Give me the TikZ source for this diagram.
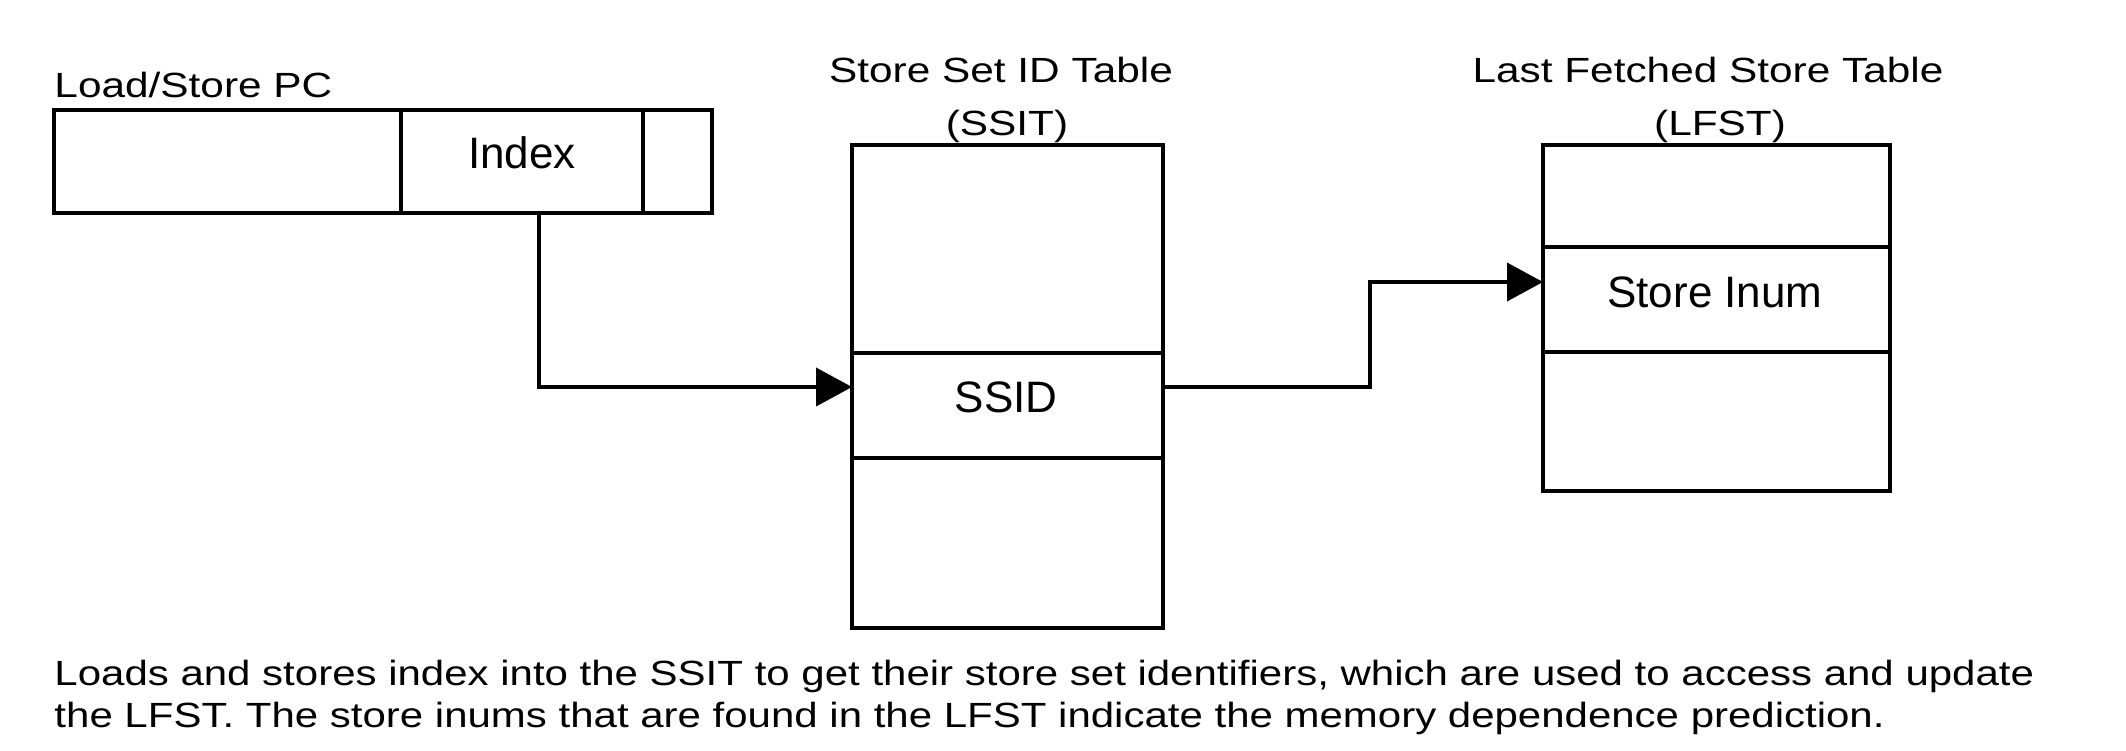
\documentclass[tikz,border=0pt]{standalone}
\usepackage{fontspec}
\setmainfont{Liberation Sans}
\usetikzlibrary{arrows.meta,calc}

\begin{document}
\begin{tikzpicture}[x=0.5pt,y=-0.5pt,
    box/.style={line width=2.2pt},
    link/.style={line width=2pt, -{Triangle[length=18pt,width=19pt]}},
    label/.style={font=\fontsize{17.5}{21}\selectfont, xscale=1.21, inner sep=0pt, anchor=base},
    caption/.style={label, xscale=1.2/1.21, anchor=base west},
    cell/.style={font=\fontsize{22}{26}\selectfont, inner sep=0pt, anchor=base}]

    % Fix the page to the size of the reference
    \useasboundingbox (0,0) rectangle (2126,750);

    % Define the corners of the three boxes
    \coordinate (PCa) at (54, 110);
    \coordinate (PCb) at (712, 213);
    \coordinate (SSa) at (852, 145);
    \coordinate (SSb) at (1163, 628);
    \coordinate (LFa) at (1543, 145);
    \coordinate (LFb) at (1890, 491);

    % Draw the Load/Store PC with its index field
    \draw[box] (PCa) rectangle (PCb);
    \foreach \x in {401, 643}
        \draw[box] (\x, 110) -- (\x, 213);
    \node[label, anchor=base west] (pclabel) at (54, 97) {Load/Store PC};
    \node[cell] (index) at (522, 168) {Index};

    % Draw the SSIT and its rows
    \draw[box] (SSa) rectangle (SSb);
    \foreach \y in {353, 458}
        \draw[box] (852, \y) -- (1163, \y);
    \node[label] (sstitle) at (1001, 82) {Store Set ID Table};
    \node[label] (ssabbr) at (1007, 135) {(SSIT)};
    \node[cell] (ssid) at (1006, 412) {SSID};

    % Draw the LFST and its rows
    \draw[box] (LFa) rectangle (LFb);
    \foreach \y in {247, 352}
        \draw[box] (1543, \y) -- (1890, \y);
    \node[label] (lftitle) at (1708, 82) {Last Fetched Store Table};
    \node[label] (lfabbr) at (1720, 135) {(LFST)};
    \node[cell] (inum) at (1715, 307) {Store Inum};

    % End points of the connectors
    \coordinate (idxout) at (539, 213);
    \coordinate (ssidin) at (852, 387);
    \coordinate (ssidout) at (1163, 387);
    \coordinate (kink) at (1370, 387);
    \coordinate (inumin) at (1543, 282);

    % Index selects an SSIT entry, the SSID selects an LFST entry
    \draw[link] (idxout) |- (ssidin);
    \draw[link] (ssidout) -- (kink) |- (inumin);

    % Caption under the tables
    \node[caption] (capa) at (54, 685)
        {Loads and stores index into the SSIT to get their store set identifiers, which are used to access and update};
    \node[caption] (capb) at (54, 727)
        {the LFST. The store inums that are found in the LFST indicate the memory dependence prediction.};

\end{tikzpicture}
\end{document}
